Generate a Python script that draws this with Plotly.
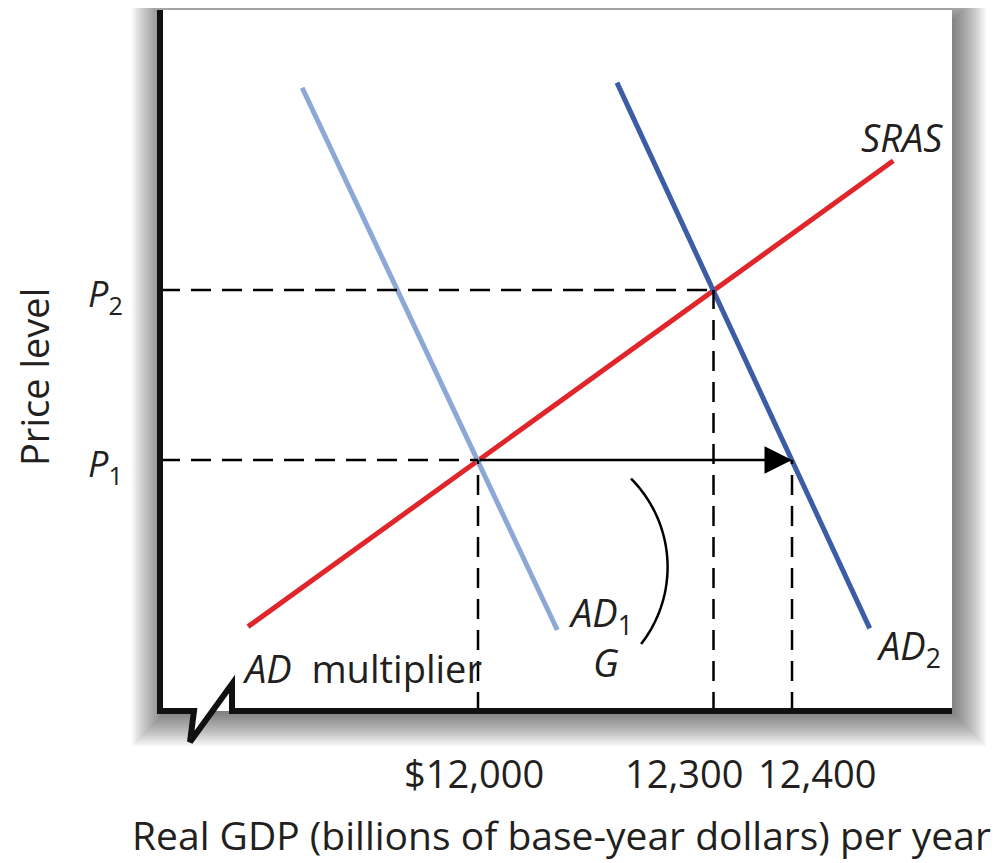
import numpy as np
import plotly.graph_objects as go

# ---------------- data ----------------
gdp_ticks = [12000, 12300, 12400]
gdp_tick_labels = ["$12,000", "12,300", "12,400"]
price_levels = [100, 110]                      # P1, P2
price_tick_labels = ["<i>P</i><sub>1</sub>", "<i>P</i><sub>2</sub>"]

sras_x = [11707, 12529]
sras_y = [90.2, 117.6]
ad1_x = [11776, 12101]
ad1_y = [121.9, 90.0]
ad2_x = [12177, 12499]
ad2_y = [122.2, 90.1]

X_RANGE = [11594.9, 12603.8]
Y_RANGE = [85.18, 126.47]

# ---------------- layout geometry (page pixels; page body has an 8px margin) ----------------
PAGE_W, PAGE_H, OFF = 1002, 863, 8
PL, PT, PR, PB = 160, 10, 952, 712          # plot area on the page
W, H = PAGE_W - OFF, PAGE_H - OFF
FONT = "Open Sans"
TXT = "#231f20"


def px(xp):
    return (xp - PL) / (PR - PL)


def py(yp):
    return (PB - yp) / (PB - PT)


fig = go.Figure()

# demand / supply curves
fig.add_trace(go.Scatter(x=sras_x, y=sras_y, mode="lines",
                         line=dict(color="#e0262b", width=5), hoverinfo="skip"))
fig.add_trace(go.Scatter(x=ad1_x, y=ad1_y, mode="lines",
                         line=dict(color="#8da8d5", width=5), hoverinfo="skip"))
fig.add_trace(go.Scatter(x=ad2_x, y=ad2_y, mode="lines",
                         line=dict(color="#3d5ca6", width=5), hoverinfo="skip"))

# dashed guide lines
dash = dict(color="black", width=2.5, dash="20px,11px")
x0, y0 = X_RANGE[0], Y_RANGE[0]
guides = [
    ([x0, gdp_ticks[0]], [price_levels[0]] * 2),
    ([x0, gdp_ticks[1]], [price_levels[1]] * 2),
    ([gdp_ticks[0]] * 2, [y0, price_levels[0]]),
    ([gdp_ticks[1]] * 2, [y0, price_levels[1]]),
    ([gdp_ticks[2]] * 2, [y0, price_levels[0]]),
]
for gx, gy in guides:
    fig.add_trace(go.Scatter(x=gx, y=gy, mode="lines", line=dash, hoverinfo="skip"))

# ---------------- shapes (shadow, panel, axes with break, arc) ----------------
shapes = []
for e in np.linspace(-18, 18, 19):
    shapes.append(dict(type="rect", xref="paper", yref="paper", layer="below",
                       x0=px(150 - e), x1=px(968 + e), y0=py(728 + e), y1=py(5 - e),
                       fillcolor="rgba(0,0,0,0.035)", line=dict(width=0)))
shapes.append(dict(type="rect", xref="paper", yref="paper", layer="below",
                   x0=px(160), x1=px(952), y0=py(711), y1=py(10),
                   fillcolor="white", line=dict(width=0)))
brk = [(194, 711), (190, 742), (232, 684), (232, 711)]
shapes.append(dict(type="path", xref="paper", yref="paper", layer="below",
                   path="M" + " L".join(f"{px(a):.5f},{py(b):.5f}" for a, b in brk) + " Z",
                   fillcolor="white", line=dict(width=0)))
axis_pts = [(160, 10), (160, 711)] + brk + [(952, 711)]
shapes.append(dict(type="path", xref="paper", yref="paper", layer="above",
                   path="M" + " L".join(f"{px(a):.5f},{py(b):.5f}" for a, b in axis_pts),
                   line=dict(color="#111111", width=6)))
# multiplier arc
cx, cy, rad = 542.6, 567.0, 125.0
ang = np.radians(np.linspace(-45, 38, 40))
arc = [(cx + rad * np.cos(a), cy + rad * np.sin(a)) for a in ang]
shapes.append(dict(type="path", xref="paper", yref="paper", layer="above",
                   path="M" + " L".join(f"{px(a):.5f},{py(b):.5f}" for a, b in arc),
                   line=dict(color="black", width=2.5)))

# ---------------- annotations ----------------
ann = []
ann.append(dict(x=gdp_ticks[2], y=price_levels[0], ax=gdp_ticks[0], ay=price_levels[0],
                xref="x", yref="y", axref="x", ayref="y", text="", showarrow=True,
                arrowhead=2, arrowsize=2.2, arrowwidth=2.5, arrowcolor="black"))


def label(text, xp, yp, xanchor="center", angle=0, size=38):
    ann.append(dict(text=text, x=px(xp), y=py(yp), xref="paper", yref="paper",
                    xanchor=xanchor, yanchor="middle", showarrow=False, textangle=angle,
                    font=dict(family=FONT, size=size, color=TXT)))


# tick labels (placed at the data values, nudged apart as in the original)
tick_shift = [-4, -30, 25]
for v, t, s in zip(gdp_ticks, gdp_tick_labels, tick_shift):
    ann.append(dict(text=t, x=v, y=py(773), xref="x", yref="paper", xshift=s,
                    xanchor="center", yanchor="middle", showarrow=False,
                    font=dict(family=FONT, size=38, color=TXT)))
for v, t in zip(price_levels, price_tick_labels):
    ann.append(dict(text=t, x=px(125), y=v, xref="paper", yref="y", yshift=-5,
                    xanchor="right", yanchor="middle", showarrow=False,
                    font=dict(family=FONT, size=36, color=TXT)))

label("<i>SRAS</i>", 902, 137)
label("<i>AD</i><sub>1</sub>", 566, 614, xanchor="left")
label("<i>G</i>", 606, 662)
label("<i>AD</i>&nbsp;&nbsp;multiplier", 240, 668, xanchor="left")
label("<i>AD</i><sub>2</sub>", 874, 647, xanchor="left")
label("Price level", 34, 377, angle=-90, size=38)
label("Real GDP (billions of base-year dollars) per year", 561, 834, size=39)

fig.update_layout(
    width=W, height=H,
    margin=dict(l=PL - OFF, r=PAGE_W - PR, t=PT - OFF, b=PAGE_H - PB, autoexpand=False),
    paper_bgcolor="white", plot_bgcolor="rgba(0,0,0,0)",
    showlegend=False, shapes=shapes, annotations=ann,
    xaxis=dict(range=X_RANGE, showgrid=False, zeroline=False, showline=False,
               showticklabels=False, ticks="", automargin=False, fixedrange=True),
    yaxis=dict(range=Y_RANGE, showgrid=False, zeroline=False, showline=False,
               showticklabels=False, ticks="", automargin=False, fixedrange=True),
)

fig.write_html("out.html")
